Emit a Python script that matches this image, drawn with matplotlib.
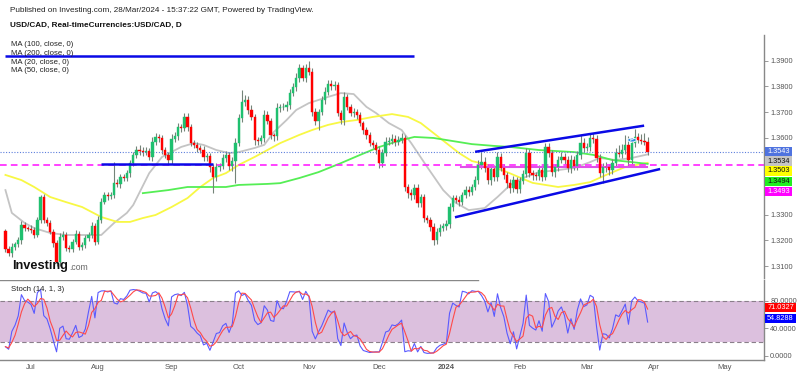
import matplotlib
matplotlib.use("Agg")
import matplotlib.pyplot as plt
import numpy as np
import pandas as pd
from matplotlib.patches import Rectangle, Circle

plt.rcParams["font.family"] = ["Liberation Sans", "DejaVu Sans"]

# ---- USD/CAD daily candles (21 Jun 2023 .. 28 Mar 2024) ----
dates = pd.bdate_range("2023-06-21", "2024-05-31")   # tail = empty future area
first_open = 1.3236
closes = [
    1.3167, 1.3150, 1.3175, 1.3185, 1.3200, 1.3260, 1.3248, 1.3245, 1.3240, 1.3222,
    1.3280, 1.3368, 1.3280, 1.3268, 1.3233, 1.3190, 1.3116, 1.3213, 1.3222, 1.3170,
    1.3168, 1.3194, 1.3225, 1.3175, 1.3182, 1.3210, 1.3222, 1.3256, 1.3194, 1.3280,
    1.3350, 1.3377, 1.3373, 1.3377, 1.3424, 1.3420, 1.3447, 1.3443, 1.3462, 1.3501,
    1.3532, 1.3552, 1.3548, 1.3545, 1.3550, 1.3525, 1.3584, 1.3603, 1.3598, 1.3552,
    1.3532, 1.3513, 1.3595, 1.3607, 1.3642, 1.3638, 1.3681, 1.3642, 1.3580, 1.3572,
    1.3560, 1.3552, 1.3525, 1.3530, 1.3486, 1.3447, 1.3486, 1.3490, 1.3521, 1.3532,
    1.3490, 1.3510, 1.3580, 1.3675, 1.3738, 1.3747, 1.3708, 1.3680, 1.3591, 1.3588,
    1.3598, 1.3688, 1.3665, 1.3610, 1.3605, 1.3715, 1.3719, 1.3719, 1.3727, 1.3774,
    1.3797, 1.3832, 1.3870, 1.3832, 1.3870, 1.3856, 1.3700, 1.3665, 1.3700, 1.3747,
    1.3778, 1.3809, 1.3800, 1.3805, 1.3696, 1.3669, 1.3758, 1.3720, 1.3696, 1.3700,
    1.3688, 1.3657, 1.3630, 1.3610, 1.3580, 1.3572, 1.3552, 1.3501, 1.3540, 1.3585,
    1.3588, 1.3595, 1.3585, 1.3590, 1.3597, 1.3408, 1.3384, 1.3376, 1.3404, 1.3345,
    1.3368, 1.3287, 1.3279, 1.3252, 1.3201, 1.3232, 1.3248, 1.3255, 1.3262, 1.3330,
    1.3365, 1.3357, 1.3350, 1.3377, 1.3396, 1.3390, 1.3408, 1.3435, 1.3494, 1.3505,
    1.3482, 1.3435, 1.3478, 1.3447, 1.3525, 1.3482, 1.3455, 1.3424, 1.3404, 1.3435,
    1.3400, 1.3430, 1.3460, 1.3540, 1.3462, 1.3455, 1.3450, 1.3474, 1.3447, 1.3563,
    1.3540, 1.3466, 1.3486, 1.3513, 1.3525, 1.3513, 1.3482, 1.3513, 1.3490, 1.3532,
    1.3580, 1.3560, 1.3565, 1.3599, 1.3594, 1.3521, 1.3462, 1.3486, 1.3484, 1.3474,
    1.3500, 1.3540, 1.3535, 1.3552, 1.3571, 1.3513, 1.3580, 1.3603, 1.3591, 1.3588,
    1.3584, 1.3543,
]
# wick lengths above / below the body, in pips
wick_up = [
    10, 12, 14, 10, 12, 15, 12, 10, 14, 12,  12, 8, 14, 10, 12, 10, 12, 14, 16, 10,
    12, 10, 14, 10, 12, 12, 10, 14, 12, 15,  14, 12, 10, 12, 80, 14, 12, 10, 12, 14,
    12, 15, 18, 14, 12, 10, 20, 16, 12, 14,  10, 12, 18, 14, 16, 12, 15, 14, 12, 10,
    12, 10, 14, 12, 10, 12, 14, 12, 16, 15,  12, 14, 18, 16, 48, 20, 14, 18, 12, 10,
    14, 18, 16, 12, 10, 20, 14, 18, 16, 14,  16, 20, 18, 14, 16, 29, 16, 14, 12, 16,
    18, 14, 16, 14, 12, 10, 20, 14, 12, 16,  12, 14, 10, 12, 14, 10, 12, 14, 16, 18,
    16, 18, 14, 16, 20, 14, 12, 18, 16, 14,  12, 14, 10, 12, 14, 16, 14, 12, 16, 14,
    12, 10, 14, 12, 16, 14, 12, 16, 20, 39,  18, 14, 16, 14, 20, 16, 14, 12, 16, 14,
    12, 16, 14, 20, 16, 14, 12, 18, 14, 18,  16, 14, 12, 16, 18, 14, 16, 18, 14, 16,
    30, 18, 16, 20, 18, 16, 14, 16, 18, 14,  16, 20, 30, 25, 40, 35, 18, 30, 15, 25,
    30, 20,
]
wick_dn = [
    12, 10, 14, 12, 10, 14, 12, 10, 12, 14,  10, 12, 14, 12, 10, 14, 16, 14, 12, 10,
    12, 14, 10, 12, 14, 10, 12, 14, 12, 10,  12, 10, 14, 12, 10, 12, 14, 10, 12, 14,
    10, 12, 14, 16, 12, 10, 14, 12, 16, 14,  12, 20, 14, 12, 16, 14, 12, 16, 14, 12,
    14, 12, 16, 14, 18, 62, 16, 14, 12, 14,  16, 20, 87, 14, 12, 16, 14, 12, 18, 16,
    14, 16, 12, 14, 16, 12, 14, 12, 16, 14,  12, 14, 16, 12, 14, 12, 16, 14, 36, 12,
    14, 12, 16, 14, 12, 16, 20, 14, 12, 16,  14, 12, 16, 14, 12, 14, 16, 18, 14, 12,
    14, 12, 16, 14, 12, 16, 20, 18, 14, 16,  14, 16, 12, 14, 19, 16, 14, 12, 14, 12,
    14, 12, 16, 14, 12, 16, 14, 12, 16, 14,  14, 16, 20, 14, 16, 12, 14, 18, 20, 14,
    16, 14, 12, 14, 16, 18, 14, 16, 14, 12,  14, 16, 18, 14, 12, 16, 14, 18, 14, 16,
    14, 16, 12, 18, 14, 16, 14, 39, 16, 18,  14, 16, 12, 14, 16, 25, 14, 16, 12, 14,
    12, 10,
]

# moving averages, sampled along the drawn curves (bar position, price)
ma20_pos = [0, 2, 6, 9, 14, 19, 30, 34, 38, 40, 45, 49, 55, 59, 62, 66, 70, 73, 78, 81,
            84, 88, 91, 95, 101, 105, 109, 113, 116, 120, 124, 127, 132, 137, 141, 145,
            150, 154, 158, 162, 167, 173, 178, 183, 186, 191, 196, 201]
ma20_val = [1.3396, 1.3307, 1.3268, 1.3248, 1.3229, 1.3221, 1.3221, 1.3268, 1.3307, 1.3338,
            1.3462, 1.3525, 1.3564, 1.3579, 1.3572, 1.3552, 1.3540, 1.3544, 1.3560, 1.3572,
            1.3622, 1.3669, 1.3708, 1.3735, 1.3759, 1.3774, 1.3770, 1.3720, 1.3696, 1.3657,
            1.3630, 1.3579, 1.3486, 1.3396, 1.3346, 1.3318, 1.3326, 1.3369, 1.3416, 1.3443,
            1.3466, 1.3474, 1.3482, 1.3505, 1.3521, 1.3513, 1.3521, 1.3535]
ma50_pos = [0, 5, 9, 14, 19, 24, 30, 35, 39, 43, 47, 52, 57, 61, 65, 69, 73, 78, 82, 86,
            92, 96, 101, 105, 110, 115, 121, 126, 130, 134, 138, 142, 146, 151, 157, 165,
            173, 178, 183, 188, 194, 201]
ma50_val = [1.3455, 1.3435, 1.3408, 1.3369, 1.3349, 1.3330, 1.3291, 1.3272, 1.3272, 1.3287,
            1.3299, 1.3330, 1.3365, 1.3408, 1.3443, 1.3462, 1.3494, 1.3525, 1.3552, 1.3579,
            1.3611, 1.3630, 1.3650, 1.3661, 1.3669, 1.3681, 1.3692, 1.3681, 1.3657, 1.3618,
            1.3579, 1.3540, 1.3509, 1.3494, 1.3466, 1.3424, 1.3408, 1.3416, 1.3427, 1.3455,
            1.3486, 1.3502]
ma100_pos = [43, 51, 57, 63, 69, 73, 82, 86, 92, 98, 105, 111, 117, 124, 128, 134, 140,
             146, 153, 158, 167, 178, 184, 190, 196, 201]
ma100_val = [1.3384, 1.3396, 1.3408, 1.3408, 1.3408, 1.3416, 1.3420, 1.3423, 1.3443, 1.3466,
             1.3501, 1.3533, 1.3564, 1.3591, 1.3603, 1.3599, 1.3587, 1.3575, 1.3568, 1.3564,
             1.3552, 1.3544, 1.3533, 1.3513, 1.3505, 1.3498]

# hand-drawn objects on the chart: (start bar, end bar, start price, end price)
top_line = (-0.1, 127.9, 1.3918, 1.3918)
support_line = (29.9, 65.0, 1.3497, 1.3497)
channel_upper = (147.0, 199.9, 1.3545, 1.3647)
channel_lower = (140.7, 204.9, 1.3290, 1.3478)
pink_segment = (142.6, 200.8, 1.3484, 1.3484)
pink_level = 1.3493
last_price = 1.3543

price_ticks = [1.31, 1.32, 1.33, 1.34, 1.35, 1.36, 1.37, 1.38, 1.39]
price_tags = ["1.3543", "1.3534", "1.3503", "1.3494", "1.3493"]
stoch_tags = ["71.0327", "54.8288"]
month_names = ["Jul", "Aug", "Sep", "Oct", "Nov", "Dec", "2024", "Feb", "Mar", "Apr", "May"]

# ---- derived series ----
n = len(closes)
pos = np.arange(n)
opens = [first_open] + closes[:-1]
pip = 0.0001
highs = [max(o, c) + u * pip for o, c, u in zip(opens, closes, wick_up)]
lows = [min(o, c) - d * pip for o, c, d in zip(opens, closes, wick_dn)]

hs, ls, cs = pd.Series(highs), pd.Series(lows), pd.Series(closes)
ll = ls.rolling(14, min_periods=1).min()
hh = hs.rolling(14, min_periods=1).max()
stoch_k = 100 * (cs - ll) / (hh - ll)
stoch_d = stoch_k.rolling(3, min_periods=1).mean()

month_first = pd.Series(np.arange(len(dates)), index=dates).groupby(
    [dates.year, dates.month]).first().values[1:]

# ---- figure ----
W, H = 800, 375
fig = plt.figure(figsize=(W / 100, H / 100), dpi=100)
fx = lambda x: x / W
fy = lambda y: 1 - y / H

XL = (-1.703, 237.42)
ax = fig.add_axes([0, fy(278), fx(764), (278 - 35) / H])
axs = fig.add_axes([0, fy(360), fx(764), 80 / H])

UP = "#1fc06f"; DN = "#ff0000"; WICK = "#748479"; TXT = "#555555"

# moving averages
ax.plot(ma20_pos, ma20_val, color="#c4c4c4", lw=1.3, zorder=1)
ax.plot(ma50_pos, ma50_val, color="#f8f844", lw=1.3, zorder=1)
ax.plot(ma100_pos, ma100_val, color="#55ee55", lw=1.3, zorder=1)

# candles
body_col = [UP if c >= o else DN for o, c in zip(opens, closes)]
ax.vlines(pos, lows, highs, color=WICK, lw=0.8, zorder=2)
ax.bar(pos, np.array(closes) - np.array(opens), bottom=opens, width=0.72,
       color=body_col, edgecolor=body_col, linewidth=0.3, zorder=3)

# levels and drawings
ax.axhline(last_price, color="#5d7fdc", lw=0.8, ls=(0, (1, 1.5)), zorder=2)
ax.axhline(pink_level, color="#ff22ff", lw=1.2, ls=(0, (4, 2.5)), zorder=2)
x0, x1, y0, y1 = pink_segment
ax.plot([x0, x1], [y0, y1], color="#e050e8", lw=1.5, zorder=2)
for x0, x1, y0, y1 in (top_line, support_line, channel_upper, channel_lower):
    ax.plot([x0, x1], [y0, y1], color="#0a0ae6", lw=1.8, zorder=4, solid_capstyle="butt")

ax.set_xlim(*XL)
ax.set_ylim(1.30535, 1.40001)
ax.set_xticks([])
ax.yaxis.tick_right()
ax.set_yticks(price_ticks)
# 1.3400 / 1.3500 sit under the value tags in the reference, so they stay blank
ax.set_yticklabels(["" if t in (1.34, 1.35) else f"{t:.4f}" for t in price_ticks])
ax.tick_params(axis="y", length=3, width=0.6, color="#888888", pad=1.5,
               labelsize=5.3, labelcolor=TXT)
for s in ("left", "top", "bottom"):
    ax.spines[s].set_visible(False)
ax.spines["right"].set_color("#888888")
ax.spines["right"].set_linewidth(1.0)

# stochastic panel
axs.axhspan(20, 80, color="#dcc0de", lw=0, zorder=0)
axs.axhline(80, color="#8a7f8a", lw=0.8, ls=(0, (4, 2.5)), zorder=1)
axs.axhline(20, color="#8a7f8a", lw=0.8, ls=(0, (4, 2.5)), zorder=1)
axs.axhline(110.0, xmax=478 / 764, color="#888888", lw=1.0)
axs.plot(pos, stoch_k, color="#5a5aff", lw=0.8, zorder=3)
axs.plot(pos, stoch_d, color="#ff4a4a", lw=0.8, zorder=3)
axs.set_xlim(*XL)
axs.set_ylim(-6.29, 110.67)
axs.yaxis.tick_right()
axs.set_yticks([0, 40, 80])
axs.set_yticklabels(["0.0000", "40.0000", "80.0000"])
axs.tick_params(axis="y", length=3, width=0.6, color="#888888", pad=1.5,
                labelsize=5.3, labelcolor=TXT)
axs.set_xticks(month_first)
axs.set_xticklabels(month_names)
axs.tick_params(axis="x", length=0, pad=3, labelsize=5.5, labelcolor=TXT)
for lbl in axs.get_xticklabels():
    if lbl.get_text() == "2024":
        lbl.set_fontweight("bold")
for s in ("left", "top"):
    axs.spines[s].set_visible(False)
for s in ("right", "bottom"):
    axs.spines[s].set_color("#888888")
    axs.spines[s].set_linewidth(1.0)
axs.text(0.014, 0.88, "Stoch (14, 1, 3)", transform=axs.transAxes, fontsize=5.6,
         color="#222222", va="center")

# header texts
fig.text(fx(10), fy(11), "Published on Investing.com, 28/Mar/2024 - 15:37:22 GMT, "
         "Powered by TradingView.", fontsize=5.9, color="#222222", va="center")
fig.text(fx(10), fy(25), "USD/CAD, Real-timeCurrencies:USD/CAD, D", fontsize=5.9,
         fontweight="bold", color="#111111", va="center")
for k, t in enumerate(["MA (100, close, 0)", "MA (200, close, 0)",
                       "MA (20, close, 0)", "MA (50, close, 0)"]):
    fig.text(fx(11), fy(45 + 8.6 * k), t, fontsize=5.6, color="#222222", va="center")

# watermark
fig.text(fx(12), fy(266), "Investing", fontsize=9.2, fontweight="bold", color="#111111",
         va="center")
fig.text(fx(69), fy(267.5), ".com", fontsize=6.2, color="#666666", va="center")

# "P" marker
fig.patches.append(Circle((fx(632), fy(140)), 4.3 / W, transform=fig.transFigure,
                          facecolor="#2d8be0", edgecolor="white", lw=0.6, zorder=6))
fig.text(fx(632), fy(140), "P", fontsize=4.5, fontweight="bold", color="white",
         ha="center", va="center", zorder=7)

# right-side value tags
tag_y = [151.7, 161.2, 171.0, 181.5, 191.5]
tag_fc = ["#4f73df", "#c4c4c4", "#ffff00", "#22ee22", "#ff00ff"]
tag_tc = ["white", "#111111", "#111111", "#111111", "white"]
for val, yc, fc, tc in zip(price_tags, tag_y, tag_fc, tag_tc):
    fig.patches.append(Rectangle((fx(765), fy(yc + 4.8)), 27 / W, 9.6 / H,
                                 transform=fig.transFigure, facecolor=fc,
                                 edgecolor="none", zorder=5))
    fig.text(fx(778.5), fy(yc), val, fontsize=5.3, color=tc, ha="center",
             va="center", zorder=6)
for val, yc, fc in zip(stoch_tags, [307.5, 318.5], ["#ff0000", "#0000ff"]):
    fig.patches.append(Rectangle((fx(765), fy(yc + 4.8)), 31 / W, 9.6 / H,
                                 transform=fig.transFigure, facecolor=fc,
                                 edgecolor="none", zorder=5))
    fig.text(fx(780.5), fy(yc), val, fontsize=5.3, color="white", ha="center",
             va="center", zorder=6)

fig.savefig("out.png", dpi=100)
